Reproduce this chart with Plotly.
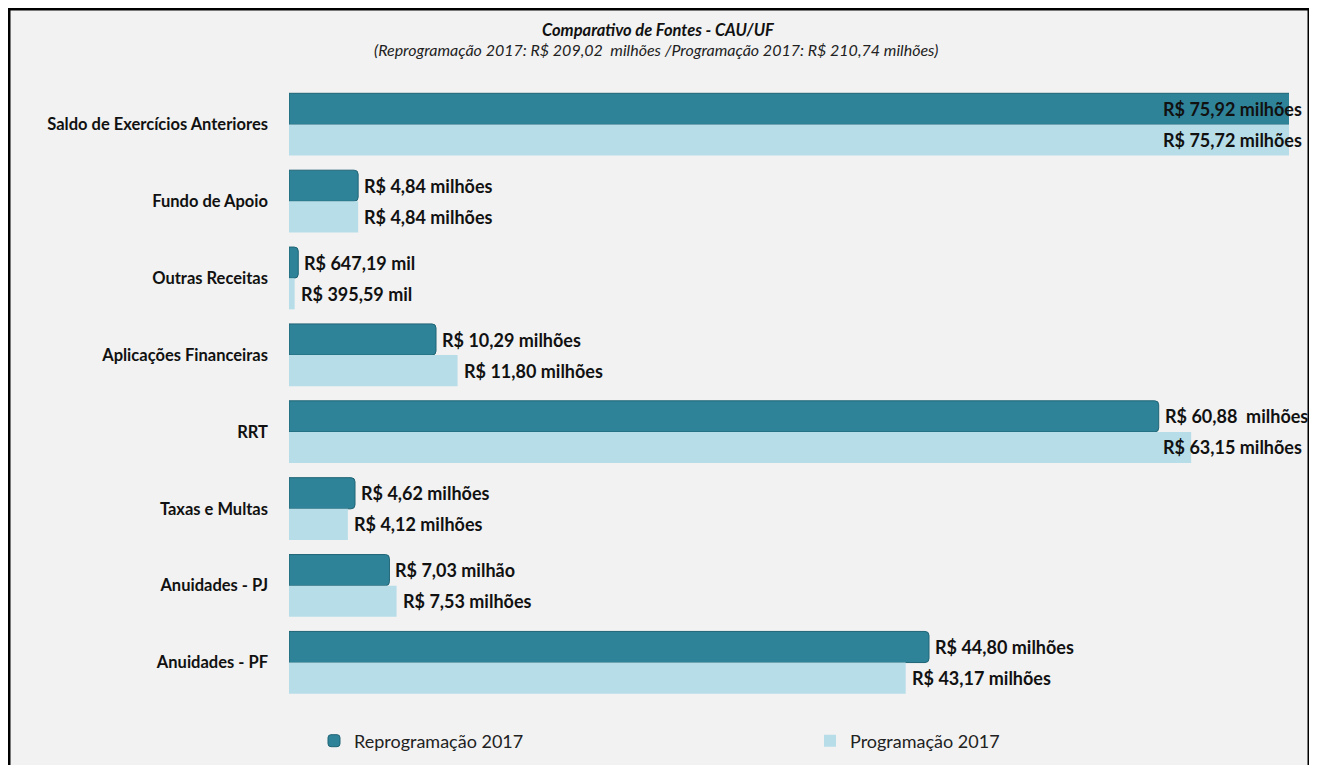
import plotly.graph_objects as go

categories = ["Saldo de Exercícios Anteriores", "Fundo de Apoio", "Outras Receitas",
              "Aplicações Financeiras", "RRT", "Taxas e Multas", "Anuidades - PJ", "Anuidades - PF"]
reprog_values = [75.92, 4.84, 0.64719, 10.29, 60.88, 4.62, 7.03, 44.80]
prog_values = [75.72, 4.84, 0.39559, 11.80, 63.15, 4.12, 7.53, 43.17]
reprog_labels = ["R$ 75,92 milhões", "R$ 4,84 milhões", "R$ 647,19 mil", "R$ 10,29 milhões",
                 "R$ 60,88  milhões", "R$ 4,62 milhões", "R$ 7,03 milhão", "R$ 44,80 milhões"]
prog_labels = ["R$ 75,72 milhões", "R$ 4,84 milhões", "R$ 395,59 mil", "R$ 11,80 milhões",
               "R$ 63,15 milhões", "R$ 4,12 milhões", "R$ 7,53 milhões", "R$ 43,17 milhões"]
series_names = ["Reprogramação 2017", "Programação 2017"]
title_text = "Comparativo de Fontes - CAU/UF"
subtitle_text = "(Reprogramação 2017: R$ 209,02  milhões /Programação 2017: R$ 210,74 milhões)"

X_MAX = 70.0
DARK = "#2F8399"
LIGHT = "#B7DEE8"
FONT = "Lato"

# page offset (body margin) and figure geometry
OFF = 8
W, H = 1317 - OFF, 765 - OFF
L = 289 - OFF
T = 86 - OFF
R = W - (1289 - OFF)
B = H - (701 - OFF)
PW, PH = W - L - R, H - T - B


def px_to_paper_x(px):
    # px: page pixel
    return (px - OFF - L) / PW


def px_to_paper_y(py):
    return (H - B - (py - OFF)) / PH


label_font = dict(family=FONT, size=18, color="#111111", weight="bold")

fig = go.Figure()
fig.add_trace(go.Bar(
    y=categories, x=reprog_values, orientation="h", name=series_names[0],
    marker=dict(color=DARK, line=dict(color="#1F6475", width=1), cornerradius=4),
    hoverinfo="skip", legend="legend",
))
fig.add_trace(go.Bar(
    y=categories, x=prog_values, orientation="h", name=series_names[1],
    marker=dict(color=LIGHT, line=dict(width=0)),
    hoverinfo="skip", legend="legend2",
))

annotations = []
for vals, labs, shift in ((reprog_values, reprog_labels, 15.5), (prog_values, prog_labels, -15.5)):
    for cat, v, lab in zip(categories, vals, labs):
        if v > 62:
            idx = categories.index(cat)
            # right-aligned near the right frame edge (paper coords, y via category index)
            annotations.append(dict(x=px_to_paper_x(1304), y=idx, xref="paper", yref="y", text=lab,
                                    xanchor="right", yanchor="middle", yshift=shift,
                                    showarrow=False, font=label_font))
        else:
            annotations.append(dict(x=v, y=cat, xref="x", yref="y", text=lab,
                                    xanchor="left", yanchor="middle", yshift=shift, xshift=4,
                                    showarrow=False, font=label_font))

annotations.append(dict(x=px_to_paper_x(658), y=px_to_paper_y(30), xref="paper", yref="paper",
                        text="<b><i>" + title_text + "</i></b>", showarrow=False,
                        xanchor="center", yanchor="middle",
                        font=dict(family=FONT, size=16.5, color="#111111")))
annotations.append(dict(x=px_to_paper_x(656), y=px_to_paper_y(49), xref="paper", yref="paper",
                        text="<i>" + subtitle_text + "</i>", showarrow=False,
                        xanchor="center", yanchor="middle",
                        font=dict(family=FONT, size=16, color="#222222")))

legend_font = dict(family=FONT, size=18, color="#222222")

fig.update_layout(
    width=W, height=H,
    margin=dict(l=L, r=R, t=T, b=B, autoexpand=False),
    paper_bgcolor="white",
    plot_bgcolor="rgba(0,0,0,0)",
    barmode="group", bargap=0.19, bargroupgap=0,
    showlegend=True,
    legend=dict(orientation="h", x=px_to_paper_x(314), y=px_to_paper_y(741),
                xanchor="left", yanchor="middle", font=legend_font,
                bgcolor="rgba(0,0,0,0)"),
    legend2=dict(orientation="h", x=px_to_paper_x(810), y=px_to_paper_y(741),
                 xanchor="left", yanchor="middle", font=legend_font,
                 bgcolor="rgba(0,0,0,0)"),
    xaxis=dict(range=[0, X_MAX], visible=False, fixedrange=True),
    yaxis=dict(autorange="reversed", showgrid=False, zeroline=False, showline=False,
               ticks="", ticklabelstandoff=20,
               tickfont=dict(family=FONT, size=16.5, color="#111111", weight="bold")),
    annotations=annotations,
    shapes=[dict(type="rect", xref="paper", yref="paper",
                 x0=px_to_paper_x(9), x1=px_to_paper_x(1309),
                 y0=px_to_paper_y(780), y1=px_to_paper_y(9),
                 fillcolor="#F2F2F2", line=dict(color="black", width=3), layer="below")],
)

fig.write_html("out.html")
